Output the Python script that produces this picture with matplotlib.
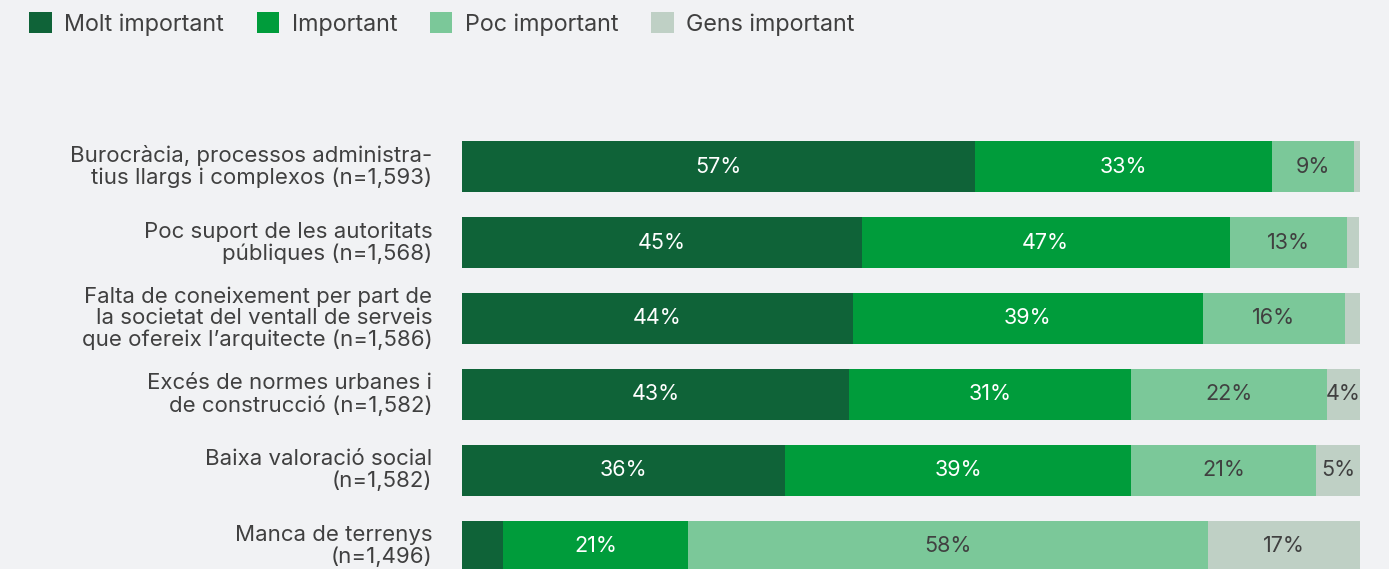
import matplotlib.pyplot as plt
from matplotlib.patches import Patch

# Dades llegides del gràfic (amplades de les barres, en %)
categories = [
    "Burocràcia, processos administra-\ntius llargs i complexos (n=1,593)",
    "Poc suport de les autoritats\npúbliques (n=1,568)",
    "Falta de coneixement per part de\nla societat del ventall de serveis\nque ofereix l’arquitecte (n=1,586)",
    "Excés de normes urbanes i\nde construcció (n=1,582)",
    "Baixa valoració social\n(n=1,582)",
    "Manca de terrenys\n(n=1,496)",
]
molt = [57.1, 44.5, 43.5, 43.1, 36.0, 4.6]
important = [33.1, 41.0, 39.0, 31.4, 38.5, 20.6]
poc = [9.1, 13.1, 15.8, 21.8, 20.6, 57.9]
gens = [0.7, 1.3, 1.7, 3.7, 4.9, 16.9]

# Etiquetes tal com apareixen al gràfic
molt_lbl = ["57%", "45%", "44%", "43%", "36%", ""]
important_lbl = ["33%", "47%", "39%", "31%", "39%", "21%"]
poc_lbl = ["9%", "13%", "16%", "22%", "21%", "58%"]
gens_lbl = ["", "", "", "4%", "5%", "17%"]

series_names = ["Molt important", "Important", "Poc important", "Gens important"]
colors = ["#0f6338", "#009c3b", "#7bc899", "#bfd0c5"]
text_colors = ["white", "white", "#404040", "#404040"]

bg = "#f1f2f4"
plt.rcParams["font.family"] = ["Inter", "DejaVu Sans"]

fig = plt.figure(figsize=(13.89, 5.69), dpi=100, facecolor=bg)
ax = fig.add_axes([462 / 1389, 0, (1360 - 462) / 1389, 469 / 569])
ax.set_facecolor(bg)

ypos = list(range(len(categories)))
left = [0.0] * len(categories)
for vals, lbls, col, tcol in zip([molt, important, poc, gens],
                                 [molt_lbl, important_lbl, poc_lbl, gens_lbl],
                                 colors, text_colors):
    ax.barh(ypos, vals, left=left, height=0.67, color=col, edgecolor="none")
    for y, l, v, t in zip(ypos, left, vals, lbls):
        if t:
            ax.text(l + v / 2, y, t, ha="center", va="center",
                    color=tcol, fontsize=15.5)
    left = [a + b for a, b in zip(left, vals)]

ax.set_xlim(0, 100)
ax.set_ylim(5.30, -0.877)
ax.axis("off")

for y, cat in zip(ypos, categories):
    ax.text(-3.3, y, cat, ha="right", va="center", fontsize=16,
            color="#404040", linespacing=1.08)

handles = [Patch(facecolor=c, edgecolor="none") for c in colors]
fig.legend(handles, series_names, loc="upper left", bbox_to_anchor=(0.006, 1.015),
           ncol=4, frameon=False, fontsize=16.8, handlelength=0.95, handleheight=0.95,
           handletextpad=0.55, columnspacing=1.4, labelcolor="#404040")

fig.savefig("out.png", dpi=100, facecolor=bg)
